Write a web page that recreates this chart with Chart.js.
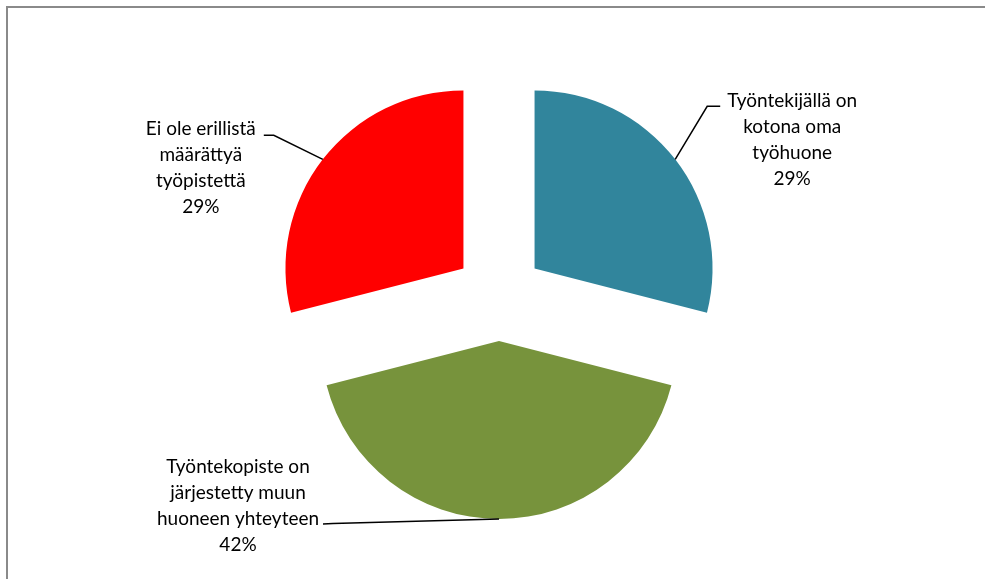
<!DOCTYPE html>
<html>
<head>
<meta charset="utf-8">
<script src="https://cdn.jsdelivr.net/npm/chart.js@4.4.1/dist/chart.umd.min.js"></script>
<style>
  html, body { margin: 0; padding: 0; background: #fff; }
  #wrap { position: relative; width: 985px; height: 579px; }
</style>
</head>
<body>
<div id="wrap"><canvas id="c"></canvas></div>
<script>
// ---- data ----
const categories = [
  ["Työntekijällä on", "kotona oma", "työhuone"],
  ["Työntekopiste on", "järjestetty muun", "huoneen yhteyteen"],
  ["Ei ole erillistä", "määrättyä", "työpistettä"]
];
const shares = [29, 42, 29];
const percentLabels = ["29%", "42%", "29%"];

// ---- style ----
const colors = ["#31859C", "#77933C", "#FF0000"];
const EXPLODE = 45;      // px each slice is pulled out from the centre
const RADIUS = 178;
// label layout: offsets relative to the slice's outer mid-angle point
const labelLayout = [
  { elbow: [32, -53], tail: [45, -53], textX: 117, textY: -58 },
  { elbow: [-166, 4.5], tail: [-176, 5], textX: -261, textY: -52 },
  { elbow: [-49, -24], tail: [-59, -24], textX: -122, textY: -30 }
];
const LINE_H = 26;
const FONT = '19px Lato, "Open Sans", sans-serif';

const frame = {
  id: 'frame',
  beforeDraw(chart) {
    const ctx = chart.ctx;
    ctx.save();
    ctx.fillStyle = '#fff';
    ctx.fillRect(0, 0, chart.width, chart.height);
    ctx.strokeStyle = '#8a8a8a';
    ctx.lineWidth = 2;
    ctx.strokeRect(7, 7, chart.width + 20, chart.height + 20);
    ctx.restore();
  }
};

// draws every arc element of the pie pulled out along its mid-angle
const explode = {
  id: 'explode',
  beforeDatasetDraw(chart, args) {
    const ctx = chart.ctx;
    args.meta.data.forEach(arc => {
      const p = arc.getProps(['startAngle', 'endAngle'], true);
      const mid = (p.startAngle + p.endAngle) / 2;
      ctx.save();
      ctx.translate(Math.cos(mid) * EXPLODE, Math.sin(mid) * EXPLODE);
      arc.draw(ctx, chart.chartArea);
      ctx.restore();
    });
    return false;
  }
};

const labels = {
  id: 'sliceLabels',
  afterDraw(chart) {
    const ctx = chart.ctx;
    const meta = chart.getDatasetMeta(0);
    ctx.save();
    meta.data.forEach((arc, i) => {
      const p = arc.getProps(['x', 'y', 'startAngle', 'endAngle', 'outerRadius'], true);
      const mid = (p.startAngle + p.endAngle) / 2;
      const ex = p.x + Math.cos(mid) * (EXPLODE + p.outerRadius);
      const ey = p.y + Math.sin(mid) * (EXPLODE + p.outerRadius);
      const L = labelLayout[i];
      ctx.strokeStyle = '#000';
      ctx.lineWidth = 1.5;
      ctx.beginPath();
      ctx.moveTo(ex, ey);
      ctx.lineTo(ex + L.elbow[0], ey + L.elbow[1]);
      ctx.lineTo(ex + L.tail[0], ey + L.tail[1]);
      ctx.stroke();
      ctx.fillStyle = '#000';
      ctx.font = FONT;
      ctx.textAlign = 'center';
      ctx.textBaseline = 'middle';
      const lines = categories[i].concat([percentLabels[i]]);
      lines.forEach((t, k) => {
        ctx.fillText(t, ex + L.textX, ey + L.textY + k * LINE_H);
      });
    });
    ctx.restore();
  }
};

new Chart(document.getElementById('c'), {
  type: 'pie',
  data: {
    labels: categories.map(c => c.join(' ')),
    datasets: [{
      data: shares,
      backgroundColor: colors,
      borderWidth: 0,
      offset: 0
    }]
  },
  options: {
    responsive: true,
    maintainAspectRatio: false,
    animation: false,
    events: [],
    radius: RADIUS,
    layout: { padding: { left: 13, top: 13, right: 0, bottom: 0 } },
    plugins: {
      legend: { display: false },
      tooltip: { enabled: false },
      title: { display: false }
    }
  },
  plugins: [frame, explode, labels]
});
</script>
</body>
</html>
